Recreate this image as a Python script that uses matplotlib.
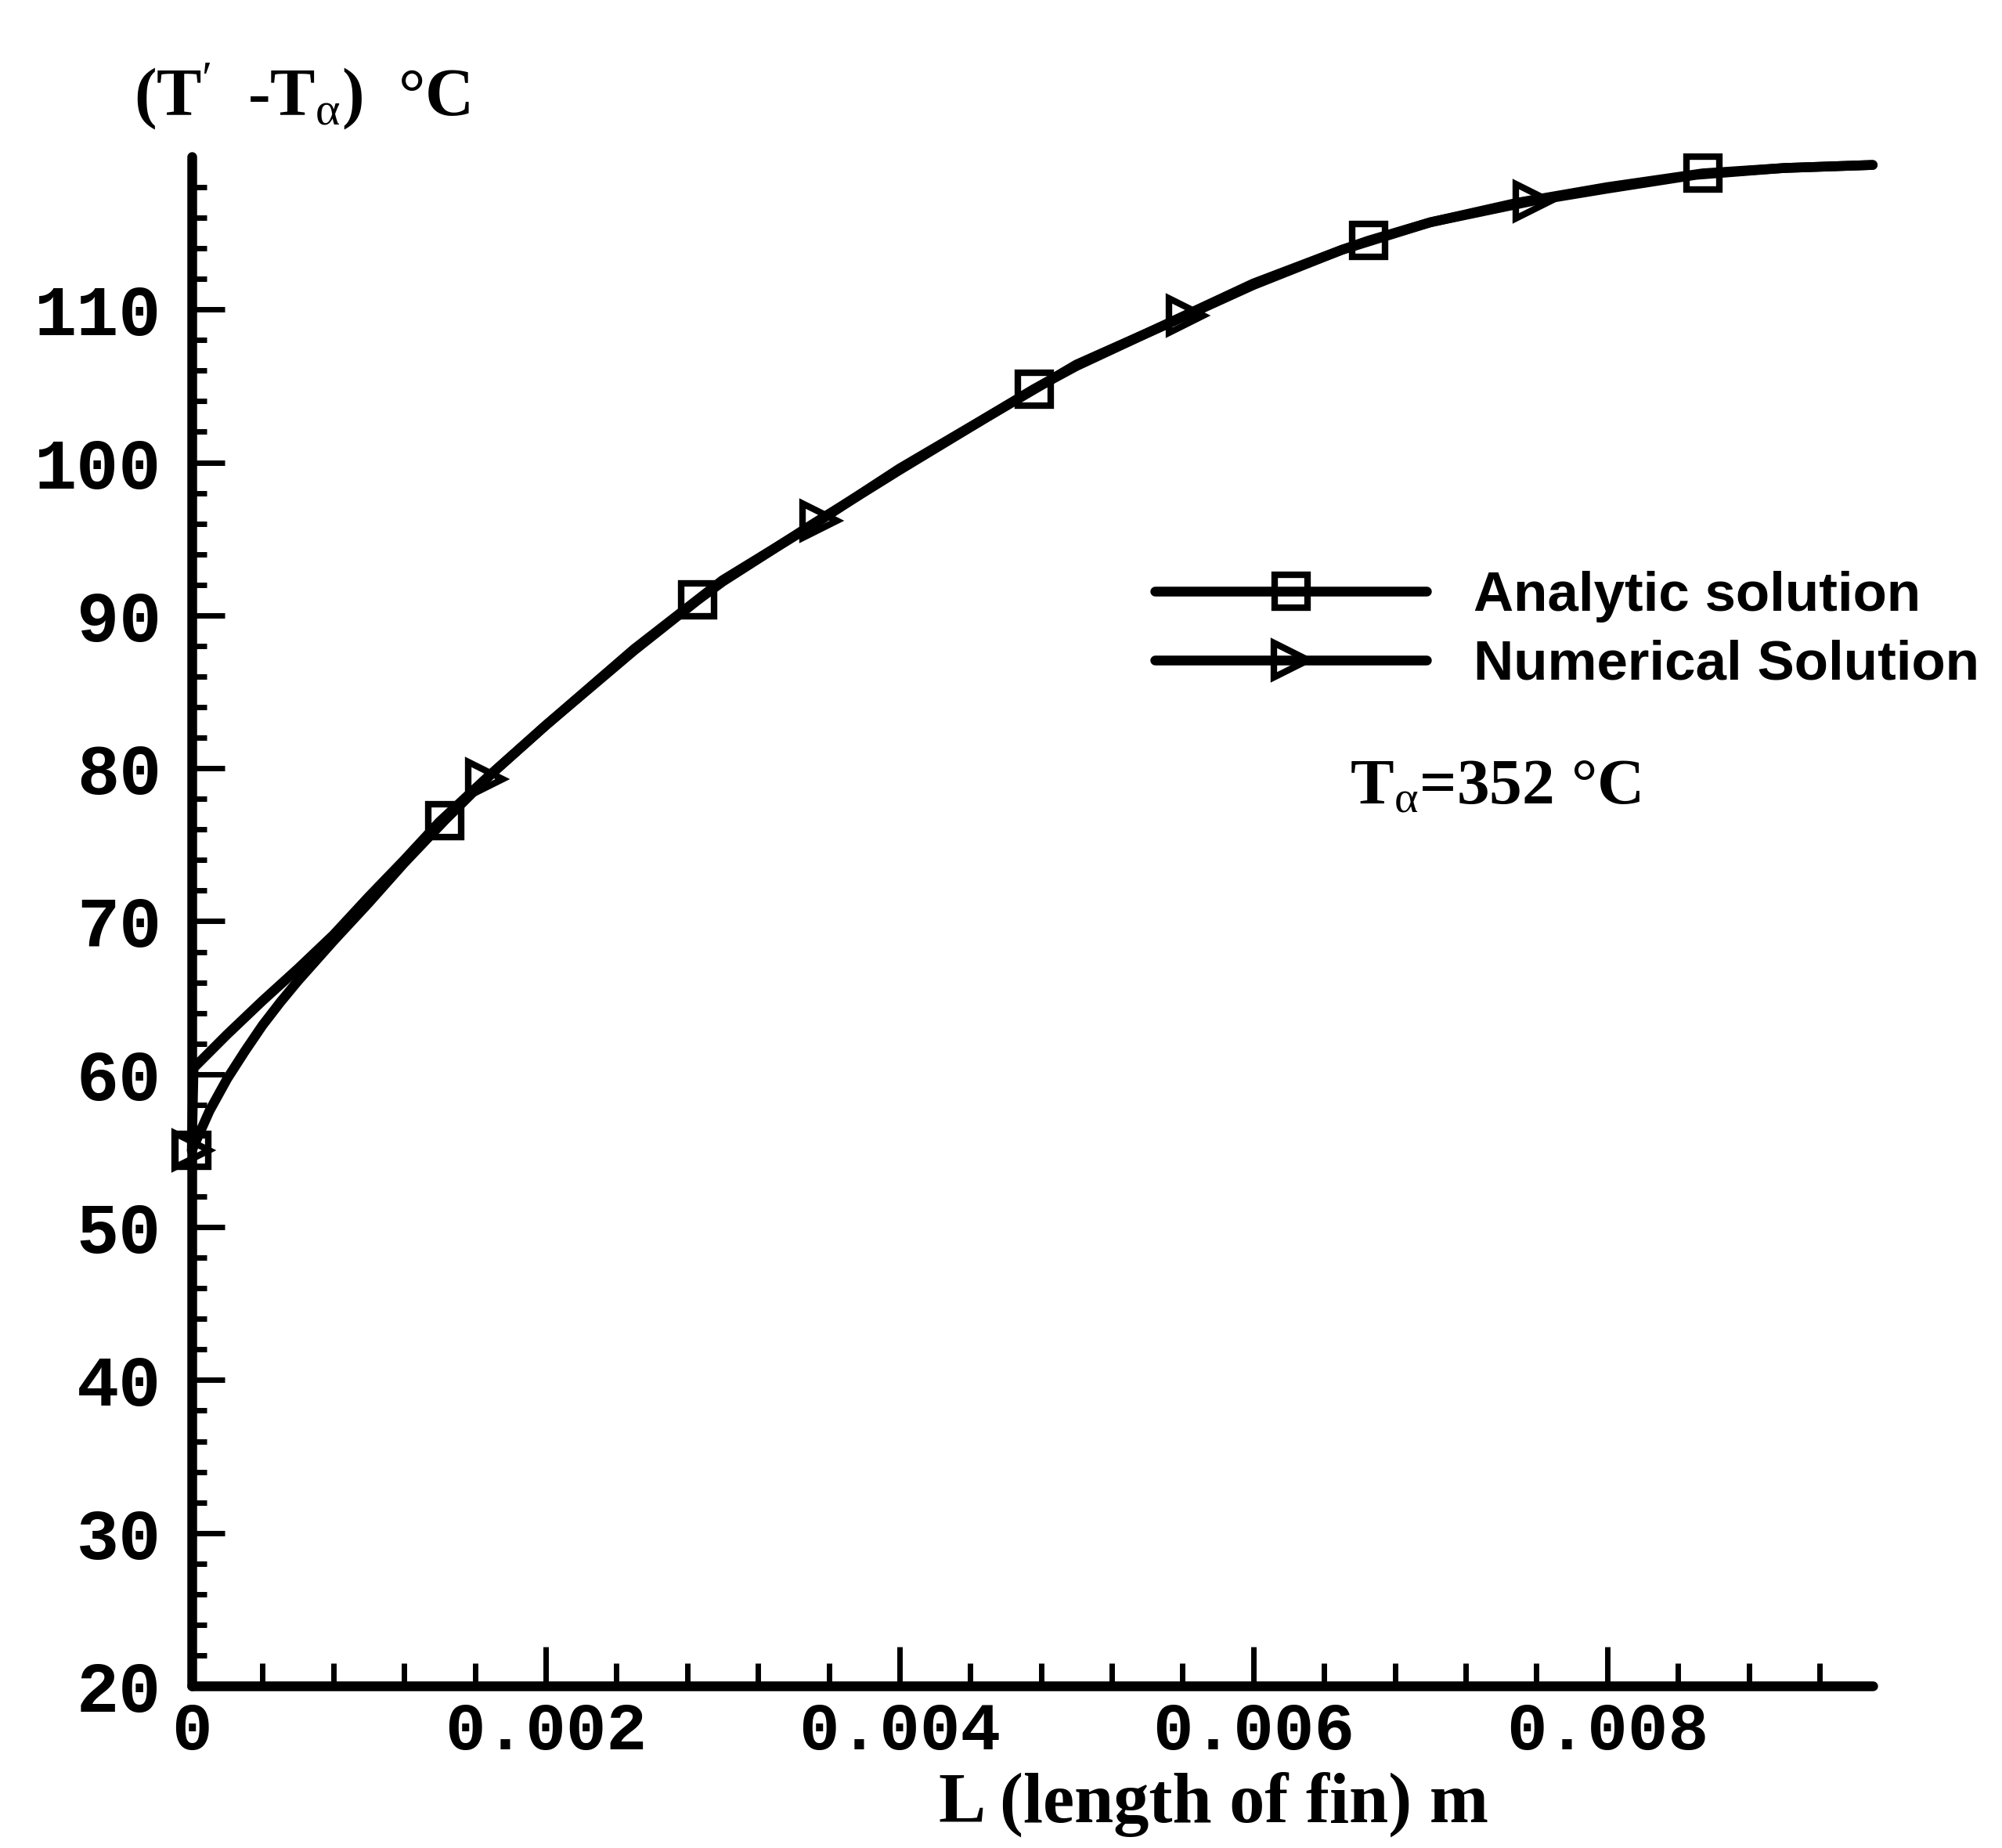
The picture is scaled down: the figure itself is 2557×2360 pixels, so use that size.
import numpy as np
import matplotlib
matplotlib.use('Agg')
import matplotlib.pyplot as plt
from matplotlib.ticker import FixedLocator

plt.rcParams['mathtext.fontset'] = 'custom'
plt.rcParams['mathtext.rm'] = 'Liberation Serif'
plt.rcParams['mathtext.it'] = 'Liberation Serif'
plt.rcParams['mathtext.bf'] = 'Liberation Serif:bold'

# fin length (m) vs excess temperature (deg C)
analytic_L = [0.0, 0.00005, 0.0001, 0.0002, 0.0003, 0.0004, 0.0005, 0.0006, 0.0008,
              0.0010, 0.0012, 0.00143, 0.0017, 0.0020, 0.0025, 0.00286, 0.0030,
              0.0035, 0.0040, 0.0045, 0.00476, 0.0050, 0.0055, 0.0060, 0.0065,
              0.00665, 0.0070, 0.0075, 0.0080, 0.00854, 0.0090, 0.0095]
analytic_T = [55.0, 56.3, 57.6, 59.7, 61.5, 63.2, 64.7, 66.1, 68.7,
              71.2, 73.8, 76.6, 79.7, 82.8, 87.7, 91.0, 92.2,
              95.9, 99.5, 103.0, 104.8, 106.3, 109.0, 111.7, 113.9,
              114.5, 115.7, 117.0, 118.0, 118.9, 119.25, 119.45]
analytic_mark_L = [0.0, 0.00143, 0.00286, 0.00476, 0.00665, 0.00854]

numerical_L = [0.0, 0.00001, 0.0002, 0.0004, 0.0006, 0.0008, 0.0010, 0.0012, 0.0014,
               0.00166, 0.0020, 0.0025, 0.0030, 0.00355, 0.0040, 0.0045, 0.0050,
               0.00562, 0.0060, 0.0065, 0.0070, 0.00758, 0.0080, 0.0085, 0.0090, 0.0095]
numerical_T = [55.0, 60.4, 62.6, 64.8, 66.9, 69.1, 71.6, 74.0, 76.5,
               79.3, 82.8, 87.8, 92.3, 96.2, 99.6, 103.0, 106.4,
               109.6, 111.6, 113.9, 115.7, 117.1, 117.9, 118.8, 119.25, 119.45]
numerical_mark_L = [0.0, 0.00166, 0.00355, 0.00562, 0.00758]

x_major = [0.0, 0.002, 0.004, 0.006, 0.008]
x_tick_labels = ['0', '0.002', '0.004', '0.006', '0.008']
y_major = [20, 30, 40, 50, 60, 70, 80, 90, 100, 110]
y_tick_labels = ['20', '30', '40', '50', '60', '70', '80', '90', '100', '110']

analytic_marks = list(np.where(np.isin(analytic_L, analytic_mark_L))[0])
numerical_marks = list(np.where(np.isin(numerical_L, numerical_mark_L))[0])

fig = plt.figure(figsize=(25.57, 23.60), dpi=100)
ax = fig.add_axes([0.0958, 0.0877, 0.8396, 0.8276])

ax.plot(analytic_L, analytic_T, color='black', lw=9, marker='s', ms=30, mew=6,
        mfc='none', mec='black', markevery=analytic_marks, solid_capstyle='round',
        clip_on=False, zorder=3, label='Analytic solution')
ax.plot(numerical_L, numerical_T, color='black', lw=9, marker='>', ms=32, mew=6,
        mfc='none', mec='black', markevery=numerical_marks, solid_capstyle='round',
        clip_on=False, zorder=3, label='Numerical Solution')

ax.set_xlim(0, 0.0095)
ax.set_ylim(20, 120)

for s in ['top', 'right']:
    ax.spines[s].set_visible(False)
for s in ['left', 'bottom']:
    ax.spines[s].set_linewidth(9)
    ax.spines[s].set_capstyle('round')

ax.xaxis.set_major_locator(FixedLocator(x_major))
ax.xaxis.set_minor_locator(FixedLocator([i * 0.0004 for i in range(1, 24) if i % 5 != 0]))
ax.set_xticklabels(x_tick_labels)
ax.yaxis.set_major_locator(FixedLocator(y_major))
ax.yaxis.set_minor_locator(FixedLocator([v for v in range(22, 120, 2) if v % 10 != 0]))
ax.set_yticklabels(y_tick_labels)

ax.tick_params(axis='x', which='major', direction='in', length=36, width=5, pad=14)
ax.tick_params(axis='x', which='minor', direction='in', length=21, width=5)
ax.tick_params(axis='y', which='major', direction='in', length=30, width=5, pad=28)
ax.tick_params(axis='y', which='minor', direction='in', length=14, width=5)

for lab in ax.get_xticklabels():
    lab.set_fontfamily('Liberation Mono')
    lab.set_fontweight('bold')
    lab.set_fontsize(62)
for lab in ax.get_yticklabels():
    lab.set_fontfamily('Liberation Mono')
    lab.set_fontweight('bold')
    lab.set_fontsize(65)

leg = ax.legend(loc='upper left', bbox_to_anchor=(0.573, 0.729), frameon=False,
                borderpad=0, borderaxespad=0, handlelength=4.9, handletextpad=0.85,
                labelspacing=0.3, numpoints=1,
                prop={'family': 'Liberation Sans', 'weight': 'bold', 'size': 51})

ax.text(0.689, 0.587, 'T$_{\\alpha}$=352 °C', transform=ax.transAxes,
        ha='left', va='center', fontsize=60, family='Liberation Serif', weight='bold')

fig.text(0.0669, 0.948, '(T$^{\\prime}$  -T$_{\\alpha}$)  °C', ha='left', va='center',
         fontsize=62, family='Liberation Serif', weight='bold')
fig.text(0.606, 0.0237, 'L (length of fin) m', ha='center', va='center',
         fontsize=65, family='Liberation Serif', weight='bold')

fig.savefig('out.png', dpi=100)
